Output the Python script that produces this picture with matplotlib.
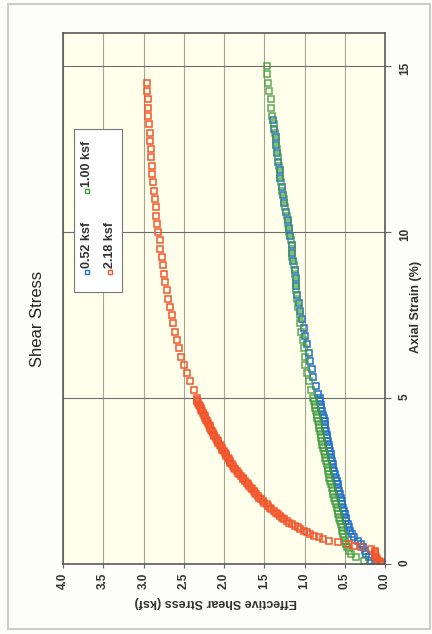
import matplotlib.pyplot as plt
from matplotlib.patches import Rectangle
from matplotlib.lines import Line2D

# Daten (Axial Strain in %, Effective Shear Stress in ksf)

strain_dense = [0.0, 0.1, 0.2, 0.3, 0.4, 0.5, 0.6, 0.7, 0.8, 0.9,
                1.0, 1.1, 1.2, 1.3, 1.4, 1.5, 1.6, 1.7, 1.8, 1.9,
                2.0, 2.1, 2.2, 2.3, 2.4, 2.5, 2.6, 2.7, 2.8, 2.9,
                3.0, 3.1, 3.2, 3.3, 3.4, 3.5, 3.6, 3.7, 3.8, 3.9,
                4.0, 4.1, 4.2, 4.3, 4.4, 4.5, 4.6, 4.7, 4.8, 4.9, 5.0]

stress_052_dense = [0.12, 0.17, 0.20, 0.23, 0.25, 0.27, 0.30, 0.34, 0.38, 0.41,
                    0.43, 0.45, 0.46, 0.48, 0.49, 0.50, 0.51, 0.52, 0.53, 0.54,
                    0.55, 0.56, 0.57, 0.58, 0.59, 0.60, 0.61, 0.62, 0.63, 0.64,
                    0.65, 0.66, 0.665, 0.67, 0.68, 0.69, 0.70, 0.71, 0.715, 0.72,
                    0.73, 0.74, 0.745, 0.75, 0.76, 0.77, 0.78, 0.79, 0.80, 0.805, 0.81]

stress_100_dense = [0.05, 0.26, 0.36, 0.42, 0.45, 0.47, 0.48, 0.50, 0.51, 0.52,
                    0.53, 0.54, 0.55, 0.56, 0.57, 0.58, 0.59, 0.60, 0.61, 0.62,
                    0.63, 0.64, 0.65, 0.66, 0.67, 0.68, 0.69, 0.70, 0.705, 0.71,
                    0.72, 0.73, 0.74, 0.75, 0.76, 0.77, 0.78, 0.785, 0.79, 0.80,
                    0.81, 0.82, 0.825, 0.83, 0.84, 0.85, 0.86, 0.87, 0.875, 0.88, 0.89]

# 2.18 ksf wurde feiner aufgezeichnet
strain_218_dense = [0.0, 0.05, 0.1, 0.15, 0.2, 0.25, 0.3, 0.35, 0.4, 0.45,
                    0.5, 0.55, 0.6, 0.65, 0.7, 0.75, 0.8, 0.85, 0.9, 0.95,
                    1.0, 1.05, 1.1, 1.15, 1.2, 1.25, 1.3, 1.35, 1.4, 1.45,
                    1.5, 1.55, 1.6, 1.65, 1.7, 1.75, 1.8, 1.85, 1.9, 1.95,
                    2.0, 2.05, 2.1, 2.15, 2.2, 2.25, 2.3, 2.35, 2.4, 2.45,
                    2.5, 2.55, 2.6, 2.65, 2.7, 2.75, 2.8, 2.85, 2.9, 2.95,
                    3.0, 3.05, 3.1, 3.15, 3.2, 3.25, 3.3, 3.35, 3.4, 3.45,
                    3.5, 3.55, 3.6, 3.65, 3.7, 3.75, 3.8, 3.85, 3.9, 3.95,
                    4.0, 4.05, 4.1, 4.15, 4.2, 4.25, 4.3, 4.35, 4.4, 4.45,
                    4.5, 4.55, 4.6, 4.65, 4.7, 4.75, 4.8, 4.85, 4.9, 4.95, 5.0]
stress_218_dense = [0.02, 0.05, 0.08, 0.10, 0.11, 0.12, 0.13, 0.13, 0.12, 0.18,
                    0.30, 0.38, 0.45, 0.58, 0.70, 0.77, 0.82, 0.88, 0.93, 0.97,
                    1.01, 1.05, 1.08, 1.12, 1.15, 1.19, 1.22, 1.25, 1.28, 1.31,
                    1.33, 1.36, 1.38, 1.41, 1.43, 1.45, 1.47, 1.50, 1.52, 1.54,
                    1.56, 1.58, 1.60, 1.62, 1.63, 1.65, 1.67, 1.69, 1.70, 1.72,
                    1.74, 1.76, 1.77, 1.79, 1.81, 1.83, 1.84, 1.86, 1.87, 1.89,
                    1.90, 1.92, 1.93, 1.94, 1.95, 1.97, 1.98, 1.99, 2.00, 2.02,
                    2.03, 2.04, 2.05, 2.07, 2.08, 2.09, 2.10, 2.12, 2.13, 2.14,
                    2.15, 2.16, 2.17, 2.18, 2.19, 2.20, 2.21, 2.22, 2.23, 2.24,
                    2.25, 2.26, 2.27, 2.28, 2.29, 2.30, 2.31, 2.32, 2.33, 2.335, 2.34]

strain_052_sparse = [5.12, 5.37, 5.62, 5.87, 6.12, 6.37, 6.62, 6.87, 7.12, 7.37,
                     7.62, 7.87, 8.12, 8.37, 8.62, 8.87, 9.12, 9.37, 9.62, 9.87,
                     10.12, 10.37, 10.62, 10.87, 11.12, 11.37, 11.62, 11.87, 12.12, 12.37,
                     12.62, 12.87, 13.12, 13.37]
stress_052_sparse = [0.83, 0.86, 0.89, 0.91, 0.93, 0.95, 0.97, 0.99, 1.01, 1.03,
                     1.05, 1.07, 1.09, 1.10, 1.11, 1.12, 1.14, 1.15, 1.16, 1.18,
                     1.19, 1.21, 1.23, 1.25, 1.27, 1.28, 1.30, 1.31, 1.33, 1.34,
                     1.35, 1.36, 1.38, 1.39]

strain_sparse = [5.25, 5.5, 5.75, 6.0, 6.25, 6.5, 6.75, 7.0, 7.25, 7.5,
                 7.75, 8.0, 8.25, 8.5, 8.75, 9.0, 9.25, 9.5, 9.75, 10.0,
                 10.25, 10.5, 10.75, 11.0, 11.25, 11.5, 11.75, 12.0, 12.25, 12.5,
                 12.75, 13.0, 13.25, 13.5, 13.75, 14.0, 14.25, 14.5, 14.75, 15.0]
stress_100_sparse = [0.92, 0.94, 0.97, 0.99, 1.00, 1.01, 1.02, 1.04, 1.05, 1.06,
                     1.08, 1.09, 1.10, 1.11, 1.12, 1.13, 1.15, 1.16, 1.17, 1.19,
                     1.20, 1.22, 1.24, 1.26, 1.28, 1.29, 1.31, 1.32, 1.33, 1.345,
                     1.36, 1.37, 1.385, 1.40, 1.41, 1.42, 1.44, 1.45, 1.46, 1.47]
stress_218_sparse = [2.37, 2.42, 2.46, 2.50, 2.53, 2.56, 2.59, 2.61, 2.63, 2.65,
                     2.67, 2.69, 2.71, 2.73, 2.74, 2.76, 2.77, 2.79, 2.80, 2.82,
                     2.83, 2.84, 2.85, 2.86, 2.87, 2.88, 2.89, 2.90, 2.905, 2.91,
                     2.92, 2.925, 2.93, 2.94, 2.945, 2.95, 2.955, 2.96]

series_labels = ['0.52 ksf', '1.00 ksf', '2.18 ksf']
series_colors = ['#1f6fc8', '#3f9a3c', '#f2552c']
stress_ticks = [0.0, 0.5, 1.0, 1.5, 2.0, 2.5, 3.0, 3.5, 4.0]
strain_ticks = [0, 5, 10, 15]

plt.rcParams['font.family'] = ['Liberation Sans', 'DejaVu Sans']

W, H = 432, 634
fig = plt.figure(figsize=(W / 100, H / 100), dpi=100)
fig.patch.set_facecolor('#fdfdfb')


def fx(px):
    return px / W


def fy(py):
    return 1 - py / H


# Diagramm ist um 90 Grad gedreht: Spannung horizontal (umgekehrt), Dehnung vertikal
ax = fig.add_axes([fx(63), fy(564), fx(385) - fx(63), fy(33) - fy(564)])
ax.set_facecolor('#ffffec')

mk = dict(linestyle='none', marker='s', markersize=4.0, markerfacecolor='none',
          markeredgewidth=1.1)
ax.plot(stress_052_dense + stress_052_sparse, strain_dense + strain_052_sparse,
        markeredgecolor=series_colors[0], **mk)
ax.plot(stress_100_dense + stress_100_sparse, strain_dense + strain_sparse,
        markeredgecolor=series_colors[1], alpha=0.85, **mk)
ax.plot(stress_218_dense + stress_218_sparse,
        strain_218_dense + strain_sparse[:len(stress_218_sparse)],
        markeredgecolor=series_colors[2], **mk)

ax.set_xlim(4.0, 0.0)
ax.set_ylim(0, 16)
ax.set_xticks(stress_ticks)
ax.set_xticklabels(['%.1f' % t for t in stress_ticks])
ax.set_yticks(strain_ticks)
ax.yaxis.tick_right()

ax.tick_params(axis='x', labelrotation=90, length=3, width=0.8, color='#666666',
               labelsize=8.5, labelcolor='#333333', pad=3)
ax.tick_params(axis='y', labelrotation=90, length=4, width=0.8, color='#666666',
               labelsize=8.5, labelcolor='#333333', pad=6)
for lab in ax.get_xticklabels() + ax.get_yticklabels():
    lab.set_fontweight('bold')

ax.grid(True, axis='x', color='#a4a496', linewidth=0.8)
ax.grid(True, axis='y', color='#6e6e6e', linewidth=0.8)
ax.set_axisbelow(True)
for s in ax.spines.values():
    s.set_color('#5a5a5a')
    s.set_linewidth(1.2)

# Beschriftungen
fig.text(fx(37), fy(319), 'Shear Stress', rotation=90, ha='center', va='center',
         fontsize=12, color='#222222')
fig.text(fx(216), fy(602), 'Effective Shear Stress (ksf)', rotation=180,
         ha='center', va='center', fontsize=9, fontweight='bold', color='#333333')
fig.text(fx(416), fy(307), 'Axial Strain (%)', rotation=90, ha='center', va='center',
         fontsize=9, fontweight='bold', color='#333333')

# Legende (gedreht)
fig.add_artist(Rectangle((fx(74), fy(292)), fx(122) - fx(74), fy(129) - fy(292),
                         transform=fig.transFigure, facecolor='white',
                         edgecolor='#777777', linewidth=0.8, zorder=5))
legend_pos = [(87, 272), (87, 191), (110, 272)]
leg_mk = dict(mk, markersize=3.4, markeredgewidth=1.0)
for (px, py), lab, col in zip(legend_pos, series_labels, series_colors):
    fig.add_artist(Line2D([fx(px)], [fy(py)], transform=fig.transFigure,
                          markeredgecolor=col, zorder=6, **leg_mk))
    fig.text(fx(px), fy(py - 4), lab, rotation=90, ha='center', va='bottom',
             fontsize=9, fontweight='bold', color='#333333', zorder=6)

# Seitenrand des Scans
fig.add_artist(Rectangle((fx(8), fy(629)), fx(430) - fx(8), fy(4) - fy(629),
                         transform=fig.transFigure, facecolor='none',
                         edgecolor='#cccccc', linewidth=1.5, zorder=0))

plt.savefig('out.png', dpi=100)
